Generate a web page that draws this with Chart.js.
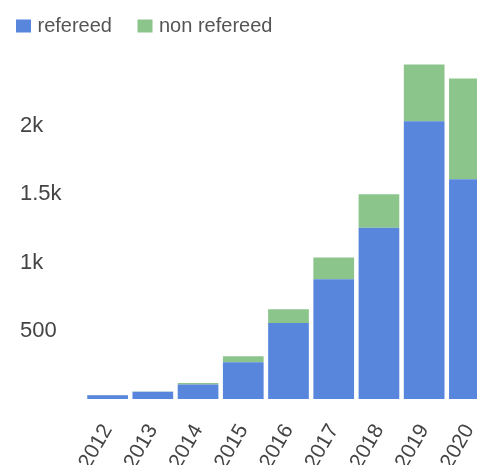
<!DOCTYPE html>
<html>
<head>
<meta charset="utf-8">
<script src="https://cdn.jsdelivr.net/npm/chart.js@4.4.1/dist/chart.umd.min.js"></script>
<style>
  html, body { margin: 0; padding: 0; background: #fff; overflow: hidden; }
  #wrap { width: 500px; height: 480px; }
</style>
</head>
<body>
<div id="wrap"><canvas id="chart" width="500" height="480"></canvas></div>
<script>
// ── data ──
const YEARS = ['2012', '2013', '2014', '2015', '2016', '2017', '2018', '2019', '2020'];
const REFEREED = [28, 53, 106, 270, 556, 877, 1254, 2034, 1610];
const NON_REFEREED = [2, 2, 12, 44, 101, 159, 246, 416, 738];
const Y_TICKS = [500, 1000, 1500, 2000];

const BLUE = '#5886dd';
const GREEN = '#8cc58b';

Chart.defaults.font.family = "'Liberation Sans', Arial, sans-serif";
Chart.defaults.animation = false;

// legend sits left of the y labels and a touch lower in the original
const shiftLegend = {
  id: 'shiftLegend',
  afterLayout(chart) {
    const l = chart.legend;
    if (!l) return;
    l.left -= 29.5;
    l.right -= 29.5;
    l.top += 2;
    l.bottom += 2;
  },
};

new Chart(document.getElementById('chart'), {
  type: 'bar',
  data: {
    labels: YEARS,
    datasets: [
      { label: 'refereed', data: REFEREED, backgroundColor: BLUE },
      { label: 'non refereed', data: NON_REFEREED, backgroundColor: GREEN },
    ],
  },
  plugins: [shiftLegend],
  options: {
    responsive: false,
    devicePixelRatio: 1,
    layout: { padding: { left: 20, top: -15, right: 8 } },
    barPercentage: 0.9,
    categoryPercentage: 1,
    plugins: {
      legend: {
        position: 'top',
        align: 'start',
        labels: {
          boxWidth: 8,
          boxHeight: 6,
          padding: 29,
          color: '#555',
          font: { size: 20 },
          // small box + thick same-colour stroke = square swatch close to the text
          generateLabels: chart =>
            Chart.defaults.plugins.legend.labels.generateLabels(chart).map(it => ({
              ...it, lineWidth: 7, strokeStyle: it.fillStyle,
            })),
        },
      },
      tooltip: { enabled: false },
    },
    scales: {
      x: {
        stacked: true,
        grid: { display: false },
        border: { display: false },
        ticks: {
          color: '#444',
          font: { size: 21 },
          minRotation: 60,
          maxRotation: 60,
          padding: 13,
        },
        afterFit: s => { s.height = 81; s.paddingLeft = 0; s.paddingRight = 0; },
      },
      y: {
        stacked: true,
        min: 0,
        max: 2600,
        grid: { display: false },
        border: { display: false },
        afterBuildTicks: s => { s.ticks = Y_TICKS.map(v => ({ value: v })); },
        afterFit: s => { s.width = 65; },
        ticks: {
          color: '#444',
          font: { size: 22 },
          crossAlign: 'far',
          callback: v => v >= 1000 ? (v / 1000) + 'k' : String(v),
        },
      },
    },
  },
});
</script>
</body>
</html>
